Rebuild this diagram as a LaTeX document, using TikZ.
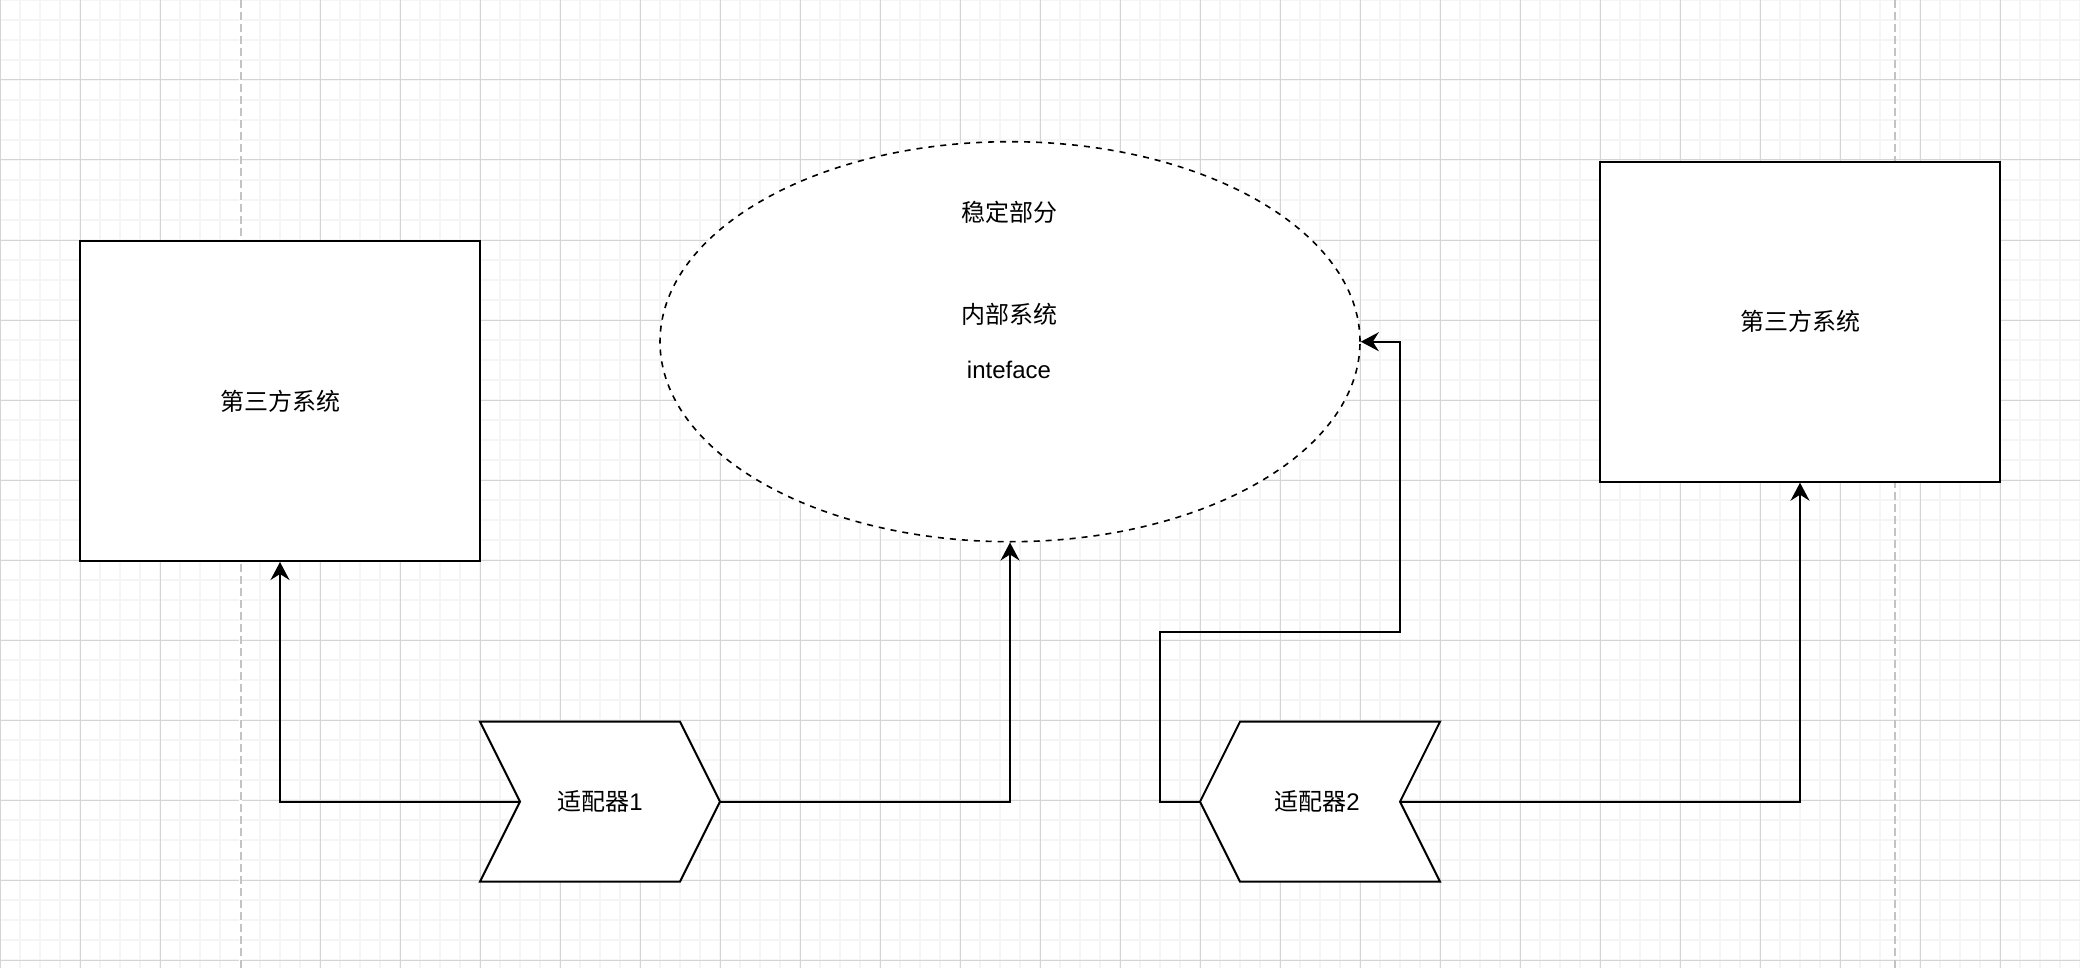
\documentclass[tikz,border=0pt]{standalone}
\usepackage{fontspec}
\setmainfont{Liberation Sans}
\newfontfamily\cjk{Noto Sans CJK SC}
\usetikzlibrary{shapes.geometric,arrows.meta}
\definecolor{minorgrid}{RGB}{245,245,245}
\definecolor{majorgrid}{RGB}{212,212,212}
\definecolor{pagegrid}{RGB}{195,195,195}
\tikzset{
  minorline/.style={draw=minorgrid,line width=0.6pt},
  majorline/.style={draw=majorgrid,line width=0.5pt},
  pageline/.style={draw=pagegrid,line width=1pt,dash pattern=on 4pt off 2pt},
  box/.style={draw=black,fill=white,line width=1pt,inner sep=0pt,
    font=\fontsize{12}{14}\selectfont},
  cloud/.style={ellipse,draw=black,fill=white,line width=0.8pt,inner sep=0pt,
    dash pattern=on 3pt off 3pt},
  chev/.style={draw=black,fill=white,line width=1pt,line join=miter},
  label/.style={inner sep=0pt,font=\fontsize{12}{14}\selectfont},
  conn/.style={draw=black,line width=1pt,
    -{Stealth[length=9pt,width=9.5pt,inset=3pt]}}
}
\begin{document}
\begin{tikzpicture}[x={(0.5pt,0pt)},y={(0pt,-0.5pt)}]
\useasboundingbox (0,0) rectangle (2080,968);
\fill[white] (0,0) rectangle (2080,968);
% grid
\foreach \i in {0,20,...,2080} {\draw[minorline] (\i,0) -- (\i,968);}
\foreach \j in {0,20,...,960} {\draw[minorline] (0,\j) -- (2080,\j);}
\foreach \i in {0,80,...,2080} {\draw[majorline] (\i,0) -- (\i,968);}
\foreach \j in {0,80,...,960} {\draw[majorline] (0,\j) -- (2080,\j);}
\fill[white] (239,0) rectangle (241.5,968);
\draw[pageline] (240.5,0) -- (240.5,968);
\draw[pageline] (1895,0) -- (1895,968);

% third-party systems
\node[box,minimum width=200pt,minimum height=160pt] (r1) at (280,401) {\cjk 第三方系统};
\node[box,minimum width=200pt,minimum height=160pt] (r2) at (1800,321.7) {\cjk 第三方系统};

% stable part
\node[cloud,minimum width=350pt,minimum height=200pt] (ell) at (1010,341.7) {};
\node[label] (t1) at (1009,212) {\cjk 稳定部分};
\node[label] (t2) at (1009,314) {\cjk 内部系统};
\node[label] (t3) at (1009,370) {inteface};

% adapter 1 (points right)
\coordinate (c1L) at (520,801.7);
\coordinate (c1R) at (720,801.7);
\draw[chev] (480,721.7) -- (680,721.7) -- (c1R) -- (680,881.7) -- (480,881.7) -- (c1L) -- cycle;
\node[label] (a1) at (600,801.7) {{\cjk 适配器}1};

% adapter 2 (points left)
\coordinate (c2L) at (1200,801.7);
\coordinate (c2R) at (1400,801.7);
\draw[chev] (1240,721.7) -- (1440,721.7) -- (c2R) -- (1440,881.7) -- (1240,881.7) -- (c2L) -- cycle;
\node[label] (a2) at (1317,801.7) {{\cjk 适配器}2};

% connectors
\draw[conn] (c1L) -| (r1.south);
\draw[conn] (c1R) -| (ell.south);
\draw[conn] (c2R) -| (r2.south);
\coordinate (b1) at (1160,801.7);
\coordinate (b2) at (1160,631.7);
\coordinate (b3) at (1400,631.7);
\draw[conn] (c2L) -- (b1) -- (b2) -- (b3) |- (ell.east);
\end{tikzpicture}
\end{document}
